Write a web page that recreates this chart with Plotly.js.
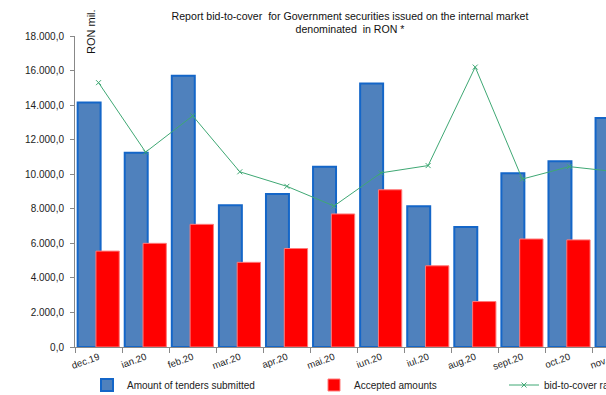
<!DOCTYPE html>
<html>
<head>
<meta charset="utf-8">
<script src="https://cdn.plot.ly/plotly-3.0.1.min.js"></script>
<style>
html,body{margin:0;padding:0;overflow:hidden;background:#fff;width:606px;height:395px;}
#chart{width:700px;height:395px;}
</style>
</head>
<body>
<div id="chart"></div>
<script>
// Data
const months = ["dec.19","ian.20","feb.20","mar.20","apr.20","mai.20","iun.20","iul.20","aug.20","sept.20","oct.20","nov.20"];
const tendersSubmitted = [14150, 11250, 15700, 8200, 8850, 10430, 15250, 8150, 6950, 10050, 10750, 13250];
const acceptedAmounts = [5550, 6000, 7100, 4900, 5700, 7700, 9100, 4700, 2630, 6250, 6200, 7850];
const bidToCover = [2.55, 1.88, 2.23, 1.69, 1.55, 1.36, 1.68, 1.75, 2.70, 1.62, 1.74, 1.69];

const W = 700, H = 395;
const font = "Liberation Sans, Arial, sans-serif";

const traces = [
  {
    type: "bar", name: "Amount of tenders submitted",
    x: months, y: tendersSubmitted,
    offset: -0.444, width: 0.488,
    marker: {color: "#4f81bd", line: {color: "#1466c8", width: 2}},
    legend: "legend", hoverinfo: "skip"
  },
  {
    type: "bar", name: "Accepted amounts",
    x: months, y: acceptedAmounts,
    offset: -0.055, width: 0.495,
    marker: {color: "#ff0000", line: {color: "#ff7a7a", width: 1}},
    legend: "legend2", hoverinfo: "skip"
  },
  {
    type: "scatter", mode: "lines+markers", name: "bid-to-cover ratio",
    x: months, y: bidToCover, yaxis: "y2",
    line: {color: "#3fa874", width: 1},
    marker: {symbol: "x-thin", size: 5, color: "#3fa874", line: {color: "#3fa874", width: 1}},
    legend: "legend3", hoverinfo: "skip"
  }
];

const legendBase = {
  orientation: "h", xref: "container", yref: "container",
  xanchor: "left", yanchor: "middle", y: (H - 385) / H,
  bgcolor: "rgba(0,0,0,0)", font: {family: font, size: 10, color: "#222"}
};

const layout = {
  width: W, height: H,
  margin: {l: 75, r: 60, t: 36, b: 48.3, pad: 0},
  paper_bgcolor: "#fff", plot_bgcolor: "#fff",
  barmode: "overlay",
  separators: ",.",
  font: {family: font, size: 10, color: "#222"},
  title: {
    text: "Report bid-to-cover  for Government securities issued on the internal market<br>denominated  in RON *",
    font: {family: font, size: 10.6, color: "#111"},
    xref: "container", x: 350 / W, xanchor: "center",
    yref: "container", y: 1 - 19.5 / H, yanchor: "top"
  },
  xaxis: {
    type: "category", range: [-0.5, 11.5],
    showline: true, linecolor: "#888", linewidth: 1,
    ticks: "outside", tickson: "boundaries", ticklen: 5, tickcolor: "#888",
    tickangle: -20, tickfont: {family: font, size: 9.6, color: "#222"},
    showgrid: false, zeroline: false, fixedrange: true
  },
  yaxis: {
    range: [0, 18000], dtick: 2000, tickformat: ",.1f",
    showline: true, linecolor: "#888", linewidth: 1,
    ticks: "outside", ticklen: 4, tickcolor: "#888", ticklabelstandoff: 4,
    tickfont: {family: font, size: 10, color: "#222"},
    showgrid: false, zeroline: false, fixedrange: true
  },
  yaxis2: {
    overlaying: "y", side: "right", range: [0, 3], visible: false, fixedrange: true
  },
  legend: Object.assign({}, legendBase, {x: 87 / W}),
  legend2: Object.assign({}, legendBase, {x: 314 / W}),
  legend3: Object.assign({}, legendBase, {x: 504 / W}),
  showlegend: true,
  annotations: [{
    text: "RON mil.", textangle: -90, showarrow: false,
    xref: "paper", yref: "paper",
    x: (91 - 75) / 565, y: (346.7 - 32) / 310.7,
    xanchor: "center", yanchor: "middle",
    font: {family: font, size: 11, color: "#111"}
  }]
};

Plotly.newPlot("chart", traces, layout, {displayModeBar: false, staticPlot: true});
</script>
</body>
</html>
